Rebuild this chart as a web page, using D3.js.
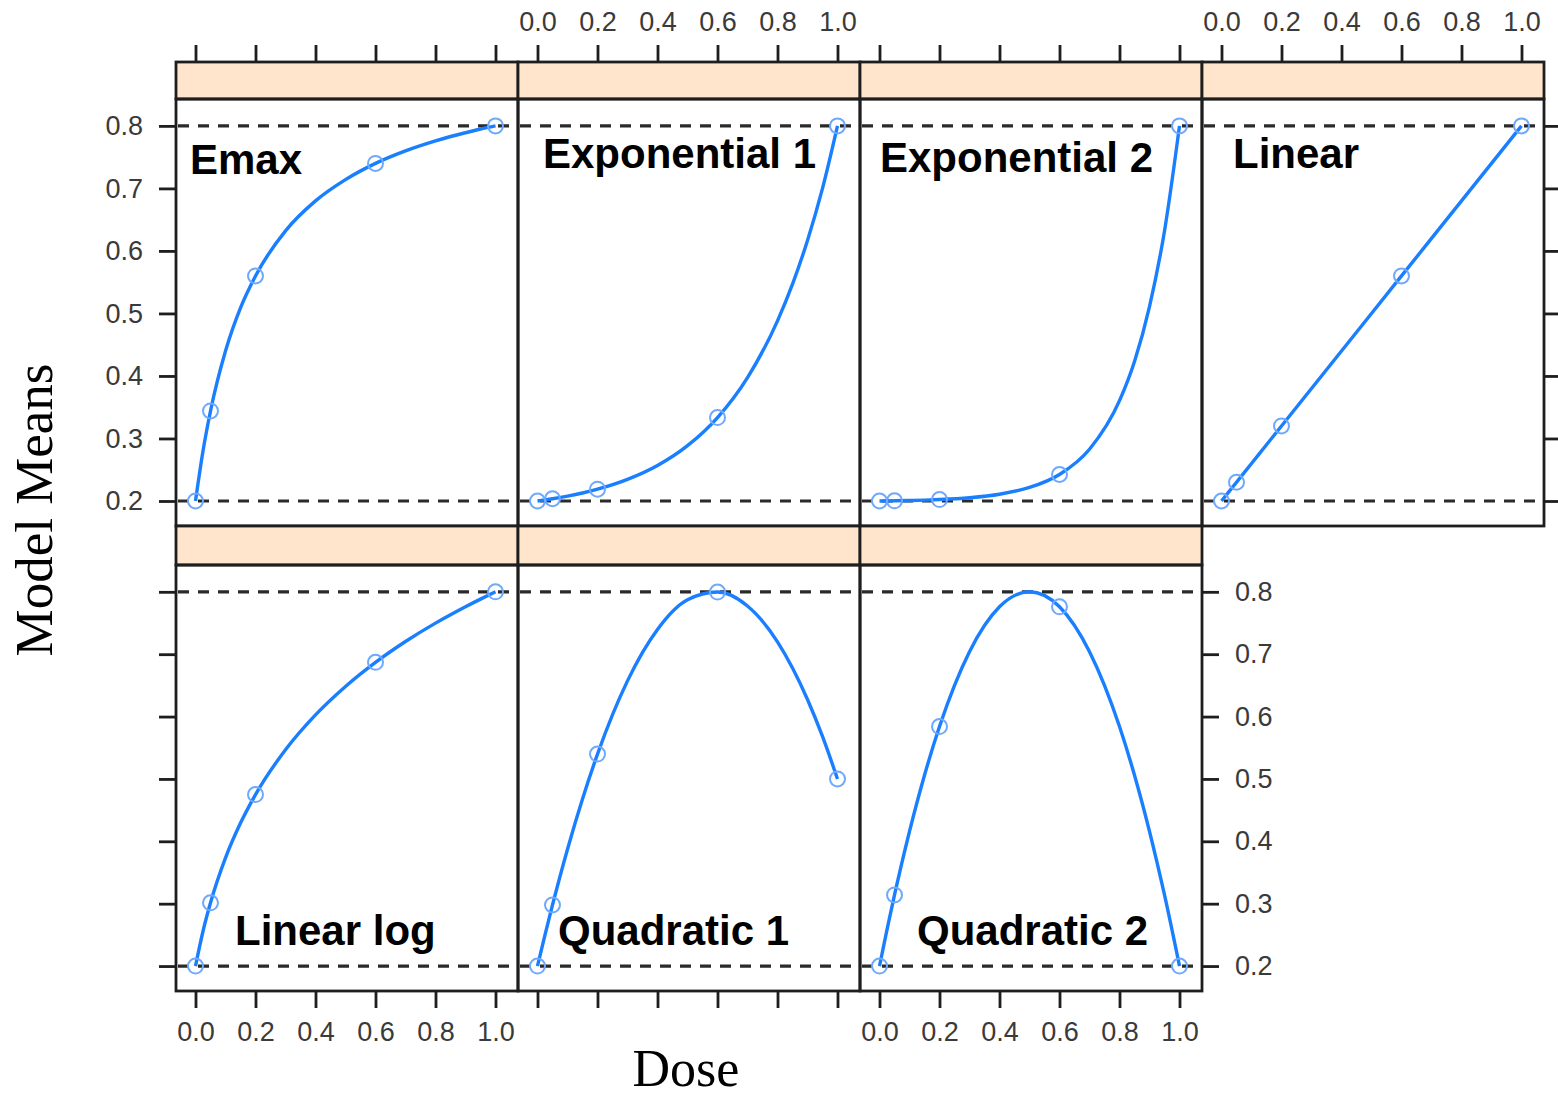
<!DOCTYPE html>
<html><head><meta charset="utf-8">
<script src="https://cdn.jsdelivr.net/npm/d3@7"></script>
<style>html,body{margin:0;padding:0;background:#fff;}svg{display:block;}</style>
</head><body>
<svg id="chart" width="1558" height="1097"></svg>
<script>
// ---- data ----
const models = ["Emax","Exponential 1","Exponential 2","Linear","Linear log","Quadratic 1","Quadratic 2"];
const pointDoses = [0, 0.05, 0.2, 0.6, 1];
const curveDoses = [0, 0.025, 0.05, 0.1, 0.15, 0.2, 0.3, 0.4, 0.5, 0.6, 0.7, 0.8, 0.85, 0.9, 0.95, 1];
const emaxCurve   = [0.2, 0.28, 0.344, 0.44, 0.509, 0.56, 0.632, 0.68, 0.714, 0.74, 0.76, 0.776, 0.783, 0.789, 0.795, 0.8];
const exp1Curve   = [0.2, 0.2017, 0.2036, 0.2078, 0.2128, 0.2189, 0.2346, 0.2568, 0.2885, 0.3335, 0.3974, 0.4882, 0.5469, 0.6168, 0.70, 0.8];
const exp2Curve   = [0.2, 0.2001, 0.2003, 0.2008, 0.2014, 0.2023, 0.2052, 0.2108, 0.2216, 0.2424, 0.2828, 0.3605, 0.4232, 0.511, 0.632, 0.8];
const linearCurve = [0.2, 0.215, 0.23, 0.26, 0.29, 0.32, 0.38, 0.44, 0.5, 0.56, 0.62, 0.68, 0.71, 0.74, 0.77, 0.8];
const linlogCurve = [0.2, 0.2558, 0.3014, 0.3734, 0.4292, 0.4749, 0.5468, 0.6027, 0.6483, 0.6869, 0.7203, 0.7498, 0.7633, 0.7761, 0.7883, 0.8];
const quad1Curve  = [0.2, 0.2501, 0.298, 0.3874, 0.4679, 0.5398, 0.6572, 0.7396, 0.7871, 0.7996, 0.7772, 0.7198, 0.6779, 0.6274, 0.5681, 0.5];
const quad2Curve  = [0.2, 0.2585, 0.314, 0.416, 0.506, 0.584, 0.704, 0.776, 0.8, 0.776, 0.704, 0.584, 0.506, 0.416, 0.314, 0.2];
const emaxPts   = [0.2, 0.344, 0.56, 0.74, 0.8];
const exp1Pts   = [0.2, 0.2036, 0.2189, 0.3335, 0.8];
const exp2Pts   = [0.2, 0.2003, 0.2023, 0.2424, 0.8];
const linearPts = [0.2, 0.23, 0.32, 0.56, 0.8];
const linlogPts = [0.2, 0.3014, 0.4749, 0.6869, 0.8];
const quad1Pts  = [0.2, 0.298, 0.5398, 0.7996, 0.5];
const quad2Pts  = [0.2, 0.314, 0.584, 0.776, 0.2];
const refLines = [0.2, 0.8];
const xTicks = [0, 0.2, 0.4, 0.6, 0.8, 1.0];
const yTicks = [0.2, 0.3, 0.4, 0.5, 0.6, 0.7, 0.8];
const xTitle = "Dose";
const yTitle = "Model Means";

const curves = [emaxCurve, exp1Curve, exp2Curve, linearCurve, linlogCurve, quad1Curve, quad2Curve];
const pts = [emaxPts, exp1Pts, exp2Pts, linearPts, linlogPts, quad1Pts, quad2Pts];

// ---- layout ----
const svg = d3.select("#chart");
const panelW = 342, left0 = 176;
const rows = [{strip: 62, top: 99, bottom: 526}, {strip: 526, top: 565, bottom: 991}];
const x = d3.scaleLinear().domain([-0.065, 1.075]).range([0, panelW]);
const yFor = r => d3.scaleLinear().domain([0.16, 0.843]).range([rows[r].bottom, rows[r].top]);
const blue = "#1a7fff";
const frameCol = "#1e1e1e";
const tickFont = "Liberation Sans, Arial, sans-serif";
const fmt = d3.format(".1f");

const labelPos = [
  {dx: 14, y: 174}, {dx: 25, y: 168}, {dx: 20, y: 172}, {dx: 31, y: 168},
  {dx: 59, y: 945}, {dx: 40, y: 945}, {dx: 57, y: 945}
];

models.forEach((m, i) => {
  const r = i < 4 ? 0 : 1, c = i < 4 ? i : i - 4;
  const px = left0 + c * panelW;
  const y = yFor(r);
  const g = svg.append("g");
  const cid = "clip" + i;
  svg.append("clipPath").attr("id", cid).append("rect")
    .attr("x", px).attr("y", rows[r].top).attr("width", panelW).attr("height", rows[r].bottom - rows[r].top);
  g.append("rect").attr("x", px).attr("y", rows[r].strip).attr("width", panelW)
    .attr("height", rows[r].top - rows[r].strip).attr("fill", "#ffe5cc")
    .attr("stroke", frameCol).attr("stroke-width", 2.8);
  const inner = g.append("g").attr("clip-path", `url(#${cid})`);
  inner.selectAll("line.ref").data(refLines).join("line")
    .attr("x1", px + 2).attr("x2", px + panelW)
    .attr("y1", d => y(d)).attr("y2", d => y(d))
    .attr("stroke", "#2a2a2a").attr("stroke-width", 3.2).attr("stroke-dasharray", "11,9");
  const line = d3.line().x(d => px + x(d[0])).y(d => y(d[1])).curve(d3.curveMonotoneX);
  inner.append("path").datum(curveDoses.map((d, k) => [d, curves[i][k]]))
    .attr("d", line).attr("fill", "none").attr("stroke", blue).attr("stroke-width", 3.4);
  inner.selectAll("circle").data(pointDoses.map((d, k) => [d, pts[i][k]])).join("circle")
    .attr("cx", d => px + x(d[0])).attr("cy", d => y(d[1])).attr("r", 7.5)
    .attr("fill", "none").attr("stroke", "#6fa8ff").attr("stroke-width", 2);
  g.append("rect").attr("x", px).attr("y", rows[r].top).attr("width", panelW)
    .attr("height", rows[r].bottom - rows[r].top).attr("fill", "none")
    .attr("stroke", frameCol).attr("stroke-width", 2.8);
  g.append("text").attr("x", px + labelPos[i].dx).attr("y", labelPos[i].y)
    .attr("font-family", "Liberation Sans, Arial, sans-serif").attr("font-weight", "bold")
    .attr("font-size", 42).attr("fill", "#000").text(m);
});

// ---- axes ----
function xAxis(col, yPos, orient, labels) {
  const px = left0 + col * panelW;
  const ax = (orient === "top" ? d3.axisTop(x) : d3.axisBottom(x))
    .tickValues(xTicks).tickSize(17).tickSizeOuter(0).tickPadding(labels ? 14 : 0)
    .tickFormat(labels ? fmt : () => "");
  const g = svg.append("g").attr("transform", `translate(${px},${yPos})`).call(ax);
  g.select(".domain").remove();
  g.selectAll(".tick line").attr("stroke", frameCol).attr("stroke-width", 2.8);
  g.selectAll(".tick text").attr("font-family", tickFont).attr("font-size", 27).attr("fill", "#3a3a3a");
}
[0, 1, 2, 3].forEach(c => xAxis(c, rows[0].strip, "top", c === 1 || c === 3));
[0, 1, 2].forEach(c => xAxis(c, rows[1].bottom, "bottom", c === 0 || c === 2));

function yAxis(r, xPos, orient, labels) {
  const ax = (orient === "left" ? d3.axisLeft(yFor(r)) : d3.axisRight(yFor(r)))
    .tickValues(yTicks).tickSize(17).tickSizeOuter(0).tickPadding(labels ? 16 : 0)
    .tickFormat(labels ? fmt : () => "");
  const g = svg.append("g").attr("transform", `translate(${xPos},0)`).call(ax);
  g.select(".domain").remove();
  g.selectAll(".tick line").attr("stroke", frameCol).attr("stroke-width", 2.8);
  g.selectAll(".tick text").attr("font-family", tickFont).attr("font-size", 27).attr("fill", "#3a3a3a");
}
yAxis(0, left0, "left", true);
yAxis(1, left0, "left", false);
yAxis(0, left0 + 4 * panelW, "right", false);
yAxis(1, left0 + 3 * panelW, "right", true);

// ---- titles ----
svg.append("text").attr("x", 686).attr("y", 1086).attr("text-anchor", "middle")
  .attr("font-family", "Liberation Serif, Times New Roman, serif").attr("font-size", 52)
  .attr("fill", "#000").text(xTitle);
svg.append("text").attr("transform", "translate(52,510) rotate(-90)").attr("text-anchor", "middle")
  .attr("font-family", "Liberation Serif, Times New Roman, serif").attr("font-size", 53)
  .attr("fill", "#000").text(yTitle);
</script>
</body></html>
